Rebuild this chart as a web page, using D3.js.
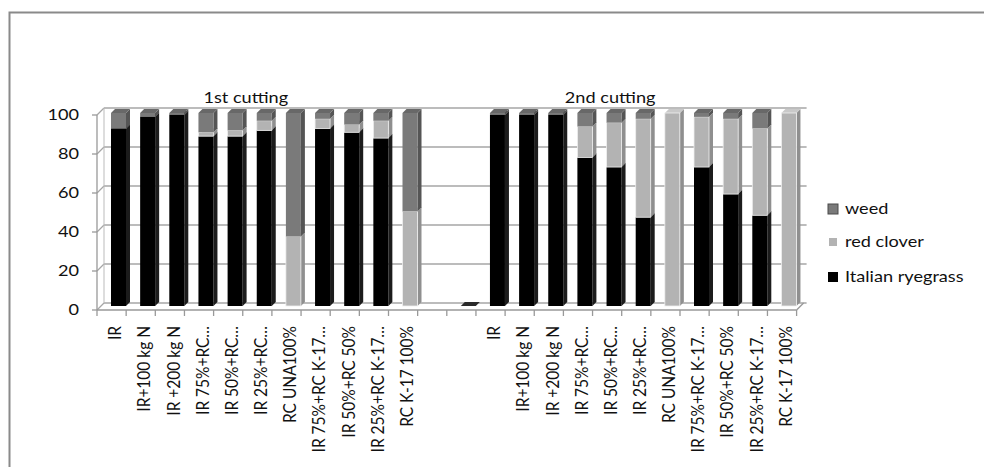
<!DOCTYPE html>
<html><head><meta charset="utf-8">
<script src="https://cdn.jsdelivr.net/npm/d3@7"></script>
<style>body{margin:0;background:#fff}svg{display:block}text{font-family:Lato,"Open Sans",sans-serif;fill:#111}</style>
</head><body>
<svg id="c" width="984" height="467"></svg>
<script>
const categories = ["IR","IR+100 kg N","IR +200 kg N","IR 75%+RC\u2026","IR 50%+RC\u2026","IR 25%+RC\u2026","RC UNA100%","IR 75%+RC K-17\u2026","IR 50%+RC 50%","IR 25%+RC K-17\u2026","RC K-17 100%","","",
  "IR","IR+100 kg N","IR +200 kg N","IR 75%+RC\u2026","IR 50%+RC\u2026","IR 25%+RC\u2026","RC UNA100%","IR 75%+RC K-17\u2026","IR 50%+RC 50%","IR 25%+RC K-17\u2026","RC K-17 100%"];
const italianRyegrass = [92,98,99,88,88,91,0,92,90,87,0,null,0, 99,99,99,77,72,46,0,72,58,47,0];
const redClover       = [0,0,0,2,3,5,36,5,4,9,49,null,0, 0,0,0,16,23,51,100,26,39,45,100];
const weed            = [8,2,1,10,9,4,64,3,6,4,51,null,0, 1,1,1,7,5,3,0,2,3,8,0];
const seriesNames = ["Italian ryegrass","red clover","weed"];
const yTicks = [0,20,40,60,80,100];
const groupTitles = [{text:"1st cutting", from:0, to:9},{text:"2nd cutting", from:12, to:22}];

const svg = d3.select("#c");
const SX = 1.17;
const FS = "15.5px";
const idx = d3.range(categories.length);
const x = d3.scaleBand().domain(idx).range([97, 97 + 24*29.15]).paddingInner(0).paddingOuter(0);
const yFront = d3.scaleLinear().domain([0,100]).range([310,115]);
const yBar = d3.scaleLinear().domain([0,100]).range([306,113]);
const DX = 7, DY = -7;
const bdx = 4, bdy = -4;
const colors = {
  "Italian ryegrass": {front:"#000", side:"#1c1c1c", top:"#2e2e2e"},
  "red clover": {front:"#b3b3b3", side:"#8f8f8f", top:"#c9c9c9"},
  "weed": {front:"#7a7a7a", side:"#555", top:"#686868"}
};

svg.append("path").attr("d","M9.5,467 V12.5 H984").attr("fill","none").attr("stroke","#8a8a8a").attr("stroke-width",2);

const x0 = x.range()[0], x1 = x.range()[1];
const g = svg.append("g");
yTicks.forEach(v=>{
  const yf = yFront(v);
  g.append("line").attr("x1",x0+DX).attr("x2",x1+DX+3).attr("y1",yf+DY).attr("y2",yf+DY).attr("stroke","#a6a6a6").attr("stroke-width",1.3);
  g.append("line").attr("x1",x0).attr("x2",x0+DX).attr("y1",yf).attr("y2",yf+DY).attr("stroke","#a6a6a6").attr("stroke-width",1.3);
  g.append("line").attr("x1",x0-5).attr("x2",x0).attr("y1",yf).attr("y2",yf).attr("stroke","#999").attr("stroke-width",1.3);
});
g.append("line").attr("x1",x0).attr("x2",x0).attr("y1",yFront(0)).attr("y2",yFront(100)).attr("stroke","#999").attr("stroke-width",1.3);
g.append("line").attr("x1",x0+DX).attr("x2",x0+DX).attr("y1",yFront(0)+DY).attr("y2",yFront(100)+DY).attr("stroke","#bbb").attr("stroke-width",1);
g.append("line").attr("x1",x0).attr("x2",x1).attr("y1",yFront(0)).attr("y2",yFront(0)).attr("stroke","#999").attr("stroke-width",1.3);
g.append("line").attr("x1",x1).attr("x2",x1+DX).attr("y1",yFront(0)).attr("y2",yFront(0)+DY).attr("stroke","#999").attr("stroke-width",1.3);
d3.range(categories.length+1).forEach(k=>{
  const xx = x0 + k*x.step();
  g.append("line").attr("x1",xx).attr("x2",xx).attr("y1",yFront(0)).attr("y2",yFront(0)+6).attr("stroke","#999").attr("stroke-width",1.3);
});

const bw = 15, bo = 14;
const para = (pts)=>"M"+pts.map(p=>p.join(",")).join("L")+"Z";
idx.forEach(i=>{
  if (italianRyegrass[i]===null) return;
  const vals = [italianRyegrass[i], redClover[i], weed[i]];
  const bx = x(i) + bo;
  let cum = 0;
  const total = d3.sum(vals);
  if (total === 0) {
    const yb = yBar(0);
    svg.append("path").attr("d", para([[bx,yb],[bx+bw,yb],[bx+bw+bdx,yb+bdy],[bx+bdx,yb+bdy]])).attr("fill","#2a2a2a");
    return;
  }
  vals.forEach((v,s)=>{
    if (!v) return;
    const c = colors[seriesNames[s]];
    const yb = yBar(cum), yt = yBar(cum+v);
    cum += v;
    const gg = svg.append("g");
    gg.append("path").attr("d", para([[bx+bw,yb],[bx+bw+bdx,yb+bdy],[bx+bw+bdx,yt+bdy],[bx+bw,yt]])).attr("fill",c.side);
    gg.append("path").attr("d", para([[bx,yt],[bx+bw,yt],[bx+bw+bdx,yt+bdy],[bx+bdx,yt+bdy]])).attr("fill",c.top);
    gg.append("rect").attr("x",bx).attr("y",yt).attr("width",bw).attr("height",yb-yt).attr("fill",c.front)
      .attr("stroke", s===1 ? "#efefef" : "none").attr("stroke-width",0.8);
  });
});

yTicks.forEach(v=>{
  svg.append("text").attr("transform",`translate(79,${yFront(v)}) scale(${SX},1)`).attr("text-anchor","end").attr("dy","0.35em")
    .style("font-size",FS).text(v);
});
idx.forEach(i=>{
  if (!categories[i]) return;
  svg.append("text").attr("transform",`translate(${x(i)+18},326) scale(${SX},1) rotate(-90)`).attr("text-anchor","end").attr("dy","0.35em")
    .style("font-size",FS).text(categories[i]);
});
groupTitles.forEach(t=>{
  const cx = (x(t.from) + x(t.to) + x.step())/2 + 3;
  svg.append("text").attr("transform",`translate(${cx},103) scale(${SX},1)`).attr("text-anchor","middle").style("font-size",FS).text(t.text);
});
const legend = [{name:"weed", y:209},{name:"red clover", y:242},{name:"Italian ryegrass", y:277}];
legend.forEach(l=>{
  const c = colors[l.name];
  if (l.name==="weed") svg.append("rect").attr("x",828).attr("y",l.y-5).attr("width",10).attr("height",10).attr("fill",c.front).attr("stroke","#4a4a4a").attr("stroke-width",1);
  else if (l.name==="red clover") svg.append("rect").attr("x",829).attr("y",l.y-4).attr("width",8).attr("height",8).attr("fill",c.front);
  else svg.append("rect").attr("x",828).attr("y",l.y-5).attr("width",10).attr("height",10).attr("fill","#000");
  svg.append("text").attr("transform",`translate(845,${l.y}) scale(${SX},1)`).attr("dy","0.35em").style("font-size",FS).text(l.name);
});
</script>
</body></html>
